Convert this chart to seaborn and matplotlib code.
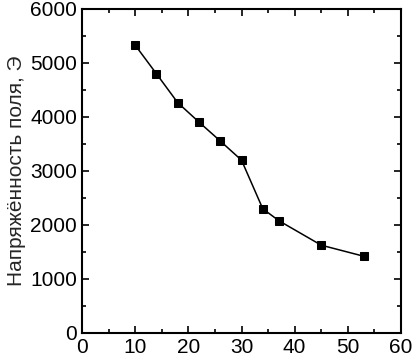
import numpy as np
import seaborn as sns
import pandas as pd
import matplotlib.pyplot as plt
from matplotlib.ticker import MultipleLocator

x_vals = [10, 14, 18, 22, 26, 30, 34, 37, 45, 53]
field = [5330, 4800, 4265, 3905, 3555, 3200, 2300, 2080, 1625, 1420]
y_label = 'Напряжённость поля, Э'

sns.set_style('ticks')
plt.rcParams['font.family'] = ['Liberation Sans', 'DejaVu Sans']

df = pd.DataFrame({'x': x_vals, 'H': field})

fig = plt.figure(figsize=(4.13, 3.58), dpi=100)
ax = fig.add_axes([0.1985, 0.07, 0.7725, 0.905])
sns.lineplot(x='x', y='H', data=df, ax=ax, color='black', linewidth=1.1,
             marker='s', markersize=5.5, markeredgecolor='black')

ax.set_xlim(0, 60)
ax.set_ylim(0, 6000)
ax.xaxis.set_major_locator(MultipleLocator(10))
ax.xaxis.set_minor_locator(MultipleLocator(5))
ax.yaxis.set_major_locator(MultipleLocator(1000))
ax.yaxis.set_minor_locator(MultipleLocator(500))
ax.tick_params(which='both', direction='in', top=True, right=True,
               width=1.2, labelsize=15, colors='black')
ax.tick_params(which='major', length=5)
ax.tick_params(which='minor', length=3)
for s in ax.spines.values():
    s.set_linewidth(1.5)
    s.set_color('black')
ax.set_xlabel('')
ax.set_ylabel(y_label, fontsize=15, labelpad=3)

fig.savefig('out.png', dpi=100)
